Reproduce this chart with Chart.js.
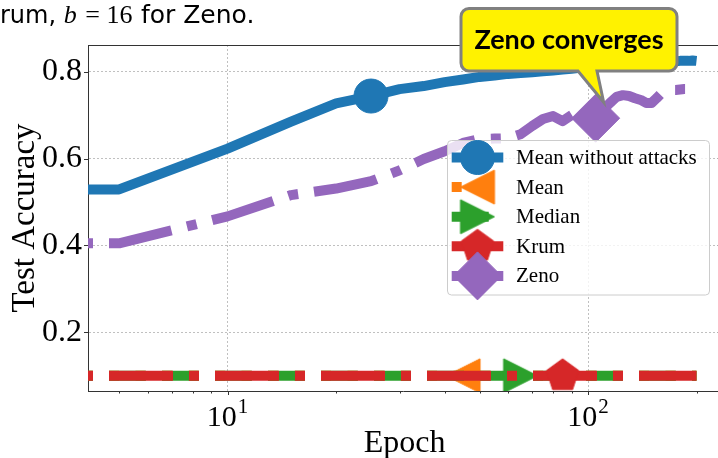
<!DOCTYPE html>
<html>
<head>
<meta charset="utf-8">
<script src="https://cdn.jsdelivr.net/npm/chart.js"></script>
<style>
  html, body { margin: 0; padding: 0; background: #fff; overflow: hidden; }
  canvas { display: block; }
</style>
</head>
<body>
<canvas id="c" width="718" height="458"></canvas>
<script>
// ---- data -------------------------------------------------------------
const epochs = [4.1, 5, 10, 15, 20, 25, 30, 35, 40, 45, 50, 55, 60, 65, 70, 75, 80, 85, 90, 95, 100,
                105, 110, 115, 120, 125, 130, 135, 140, 145, 150, 155, 160, 165, 170, 175, 180, 185, 190, 195, 200];

const cleanAcc = [0.529, 0.529, 0.623, 0.685, 0.727, 0.744, 0.760, 0.767, 0.776, 0.782, 0.788, 0.791, 0.795, 0.797,
                  0.799, 0.801, 0.803, 0.805, 0.807, 0.809, 0.811, 0.812, 0.814, 0.815, 0.816, 0.817, 0.818, 0.819,
                  0.820, 0.821, 0.821, 0.822, 0.823, 0.823, 0.824, 0.824, 0.825, 0.825, 0.825, 0.826, 0.825];

const meanAcc = [0.1, 0.1, 0.1, 0.1, 0.1, 0.1, 0.1, 0.1, 0.1, 0.1, 0.1, 0.1, 0.1, 0.1, 0.1, 0.1, 0.1, 0.1, 0.1, 0.1, 0.1,
                 0.1, 0.1, 0.1, 0.1, 0.1, 0.1, 0.1, 0.1, 0.1, 0.1, 0.1, 0.1, 0.1, 0.1, 0.1, 0.1, 0.1, 0.1, 0.1, 0.1];

const medianAcc = [0.1, 0.1, 0.1, 0.1, 0.1, 0.1, 0.1, 0.1, 0.1, 0.1, 0.1, 0.1, 0.1, 0.1, 0.1, 0.1, 0.1, 0.1, 0.1, 0.1, 0.1,
                   0.1, 0.1, 0.1, 0.1, 0.1, 0.1, 0.1, 0.1, 0.1, 0.1, 0.1, 0.1, 0.1, 0.1, 0.1, 0.1, 0.1, 0.1, 0.1, 0.1];

const krumAcc = [0.1, 0.1, 0.1, 0.1, 0.1, 0.1, 0.1, 0.1, 0.1, 0.1, 0.1, 0.1, 0.1, 0.1, 0.1, 0.1, 0.1, 0.1, 0.1, 0.1, 0.1,
                 0.1, 0.1, 0.1, 0.1, 0.1, 0.1, 0.1, 0.1, 0.1, 0.1, 0.1, 0.1, 0.1, 0.1, 0.1, 0.1, 0.1, 0.1, 0.1, 0.1];

const zenoAcc = [0.405, 0.405, 0.467, 0.516, 0.531, 0.548, 0.573, 0.599, 0.617, 0.636, 0.645, 0.646, 0.647, 0.656,
                 0.675, 0.691, 0.698, 0.686, 0.700, 0.712, 0.702, 0.693, 0.712, 0.728, 0.742, 0.746, 0.744, 0.739,
                 0.735, 0.728, 0.728, 0.739, 0.751, 0.755, 0.758, 0.758, 0.759, 0.760, 0.760, 0.761, 0.762];

const seriesNames = ['Mean without attacks', 'Mean', 'Median', 'Krum', 'Zeno'];
const markerEpochs = [25, 45, 65, 85, 105];

const yTicks = [0.2, 0.4, 0.6, 0.8];
const xMajorTicks = [10, 100];
const xMinorTicks = [5, 6, 7, 8, 9, 20, 30, 40, 50, 60, 70, 80, 90, 200];

const titleParts = ['rum, ', 'b', ' = 16 ', 'for Zeno.'];
const calloutText = 'Zeno converges';
const xTitle = 'Epoch';
const yTitle = 'Test Accuracy';

// ---- styles -----------------------------------------------------------
const COLORS = ['#1f77b4', '#ff7f0e', '#2ca02c', '#d62728', '#9467bd'];
const SERIF = '"Liberation Serif", "Times New Roman", serif';
const SANS = '"DejaVu Sans", "Noto Sans", sans-serif';
const BOLD_SANS = 'Lato, "Noto Sans", sans-serif';
const SPINE = '#333333';

// marker sprites for shapes the library does not provide
function markerCanvas(color, pathFn) {
  const s = 44, c = document.createElement('canvas');
  c.width = s; c.height = s;
  const g = c.getContext('2d');
  g.translate(s / 2, s / 2);
  g.beginPath(); pathFn(g); g.closePath();
  g.fillStyle = color; g.fill();
  g.lineWidth = 1; g.strokeStyle = color; g.stroke();
  return c;
}
const MR = 17;
const triLeft = markerCanvas(COLORS[1], g => { g.moveTo(-MR, 0); g.lineTo(MR, -MR); g.lineTo(MR, MR); });
const triRight = markerCanvas(COLORS[2], g => { g.moveTo(MR, 0); g.lineTo(-MR, -MR); g.lineTo(-MR, MR); });
const pentagon = markerCanvas(COLORS[3], g => {
  for (let k = 0; k < 5; k++) {
    const a = -Math.PI / 2 + k * 2 * Math.PI / 5;
    const px = MR * Math.cos(a), py = MR * Math.sin(a);
    if (k) g.lineTo(px, py); else g.moveTo(px, py);
  }
});

const styles = [
  { point: 'circle',  radius: 17, dash: [],                offset: 0 },
  { point: triLeft,   radius: 17, dash: [10, 16.5],        offset: 85 },
  { point: triRight,  radius: 17, dash: [37, 16],          offset: 85 },
  { point: pentagon,  radius: 17, dash: [64, 16, 10, 16],  offset: 85 },
  { point: 'rectRot', radius: 24, dash: [64, 16, 10, 16],  offset: 85 }
];
const seriesValues = [cleanAcc, meanAcc, medianAcc, krumAcc, zenoAcc];

const datasets = seriesValues.map((vals, i) => ({
  label: seriesNames[i],
  data: epochs.map((e, j) => ({ x: e, y: vals[j] })),
  borderColor: COLORS[i],
  backgroundColor: COLORS[i],
  borderWidth: 10,
  borderDash: styles[i].dash,
  borderDashOffset: styles[i].offset,
  borderCapStyle: 'butt',
  borderJoinStyle: 'round',
  tension: 0,
  fill: false,
  pointStyle: styles[i].point,
  pointRadius: ctx => (ctx.raw && ctx.raw.x === markerEpochs[i]) ? styles[i].radius : 0,
  pointHoverRadius: 0,
  pointBackgroundColor: COLORS[i],
  pointBorderColor: COLORS[i],
  pointBorderWidth: 1,
  order: 5 - i
}));

// ---- decorations: spines, ticks, labels, title, legend, callout --------
function roundRectPath(ctx, l, t, r, b, rad) {
  ctx.moveTo(l + rad, t);
  ctx.lineTo(r - rad, t); ctx.arcTo(r, t, r, t + rad, rad);
  ctx.lineTo(r, b - rad); ctx.arcTo(r, b, r - rad, b, rad);
  ctx.lineTo(l + rad, b); ctx.arcTo(l, b, l, b - rad, rad);
  ctx.lineTo(l, t + rad); ctx.arcTo(l, t, l + rad, t, rad);
  ctx.closePath();
}

function drawLegendMarker(ctx, i, cx, cy) {
  const st = styles[i];
  if (typeof st.point === 'object') {
    ctx.drawImage(st.point, cx - st.point.width / 2, cy - st.point.height / 2);
    return;
  }
  ctx.beginPath();
  if (st.point === 'circle') {
    ctx.arc(cx, cy, st.radius, 0, Math.PI * 2);
  } else {
    ctx.moveTo(cx - st.radius, cy); ctx.lineTo(cx, cy - st.radius);
    ctx.lineTo(cx + st.radius, cy); ctx.lineTo(cx, cy + st.radius);
    ctx.closePath();
  }
  ctx.fillStyle = COLORS[i]; ctx.fill();
  ctx.lineWidth = 1; ctx.strokeStyle = COLORS[i]; ctx.stroke();
}

const decorations = {
  id: 'decorations',
  afterDraw(chart) {
    const ctx = chart.ctx;
    const area = chart.chartArea;
    const xs = chart.scales.x, ys = chart.scales.y;
    ctx.save();

    // top spine
    ctx.strokeStyle = SPINE; ctx.lineWidth = 1;
    ctx.beginPath(); ctx.moveTo(area.left, area.top + 0.5); ctx.lineTo(area.right, area.top + 0.5); ctx.stroke();

    // tick marks
    ctx.beginPath();
    yTicks.forEach(v => { const y = Math.round(ys.getPixelForValue(v)) + 0.5; ctx.moveTo(area.left - 4, y); ctx.lineTo(area.left, y); });
    xMajorTicks.forEach(v => { const x = Math.round(xs.getPixelForValue(v)) + 0.5; ctx.moveTo(x, area.bottom); ctx.lineTo(x, area.bottom + 4); });
    xMinorTicks.forEach(v => { const x = Math.round(xs.getPixelForValue(v)) + 0.5; ctx.moveTo(x, area.bottom); ctx.lineTo(x, area.bottom + 2.5); });
    ctx.stroke();

    // x tick labels: 10 with a raised exponent
    ctx.fillStyle = '#000';
    ctx.textBaseline = 'alphabetic';
    ctx.textAlign = 'left';
    xMajorTicks.forEach(v => {
      const x = xs.getPixelForValue(v);
      const exp = String(Math.round(Math.log10(v)));
      ctx.font = '30px ' + SERIF; const wb = ctx.measureText('10').width;
      ctx.font = '21px ' + SERIF; const we = ctx.measureText(exp).width;
      const x0 = x - (wb + we + 1) / 2;
      ctx.font = '30px ' + SERIF; ctx.fillText('10', x0, 426);
      ctx.font = '21px ' + SERIF; ctx.fillText(exp, x0 + wb + 1, 413);
    });

    // axis titles
    ctx.font = '32px ' + SERIF;
    ctx.textAlign = 'center';
    ctx.fillText(xTitle, 404.5, 452);
    ctx.save();
    ctx.translate(34, (area.top + area.bottom) / 2);
    ctx.rotate(-Math.PI / 2);
    ctx.font = '33px ' + SERIF;
    ctx.fillText(yTitle, 0, 0);
    ctx.restore();

    // figure title (text and maths mixed)
    ctx.textAlign = 'left';
    const titleFonts = ['24px ' + SANS, 'italic 26px ' + SERIF, '26px ' + SERIF, '25px ' + SANS];
    let tx = 0;
    titleParts.forEach((t, k) => {
      ctx.font = titleFonts[k];
      ctx.fillText(t, tx, 23);
      tx += ctx.measureText(t).width + (k === 1 || k === 2 ? 2 : 0);
    });

    // legend
    const lg = { l: 447.5, t: 140.5, r: 709.5, b: 295, row0: 157.5, dy: 29.6, h0: 451.7, h1: 503.3, tx: 516 };
    ctx.beginPath(); roundRectPath(ctx, lg.l, lg.t, lg.r, lg.b, 4);
    ctx.fillStyle = 'rgba(255,255,255,0.8)'; ctx.fill();
    ctx.strokeStyle = '#cccccc'; ctx.lineWidth = 1; ctx.stroke();
    seriesNames.forEach((name, i) => {
      const y = lg.row0 + i * lg.dy;
      ctx.save();
      ctx.strokeStyle = COLORS[i]; ctx.lineWidth = 10; ctx.lineCap = 'butt';
      ctx.setLineDash(styles[i].dash); ctx.lineDashOffset = 0;
      ctx.beginPath(); ctx.moveTo(lg.h0, y); ctx.lineTo(lg.h1, y); ctx.stroke();
      ctx.restore();
      drawLegendMarker(ctx, i, (lg.h0 + lg.h1) / 2, y);
      ctx.fillStyle = '#000';
      ctx.font = '21px ' + SERIF;
      ctx.textBaseline = 'middle';
      ctx.fillText(name, lg.tx, y + 1);
    });

    // callout pointing at the Zeno marker
    const zi = epochs.indexOf(markerEpochs[4]);
    const tipX = xs.getPixelForValue(markerEpochs[4]) + 8;
    const tipY = ys.getPixelForValue(zenoAcc[zi]) - 16;
    const bx = { l: 461, t: 8.5, r: 677, b: 71, rad: 8, p0: 578, p1: 597 };
    ctx.beginPath();
    ctx.moveTo(bx.l + bx.rad, bx.t);
    ctx.lineTo(bx.r - bx.rad, bx.t); ctx.arcTo(bx.r, bx.t, bx.r, bx.t + bx.rad, bx.rad);
    ctx.lineTo(bx.r, bx.b - bx.rad); ctx.arcTo(bx.r, bx.b, bx.r - bx.rad, bx.b, bx.rad);
    ctx.lineTo(bx.p1, bx.b); ctx.lineTo(tipX, tipY); ctx.lineTo(bx.p0, bx.b);
    ctx.lineTo(bx.l + bx.rad, bx.b); ctx.arcTo(bx.l, bx.b, bx.l, bx.b - bx.rad, bx.rad);
    ctx.lineTo(bx.l, bx.t + bx.rad); ctx.arcTo(bx.l, bx.t, bx.l + bx.rad, bx.t, bx.rad);
    ctx.closePath();
    ctx.fillStyle = '#fff200'; ctx.fill();
    ctx.lineJoin = 'miter'; ctx.lineWidth = 3; ctx.strokeStyle = '#808080'; ctx.stroke();
    ctx.fillStyle = '#000';
    ctx.font = 'bold 27px ' + BOLD_SANS;
    ctx.textAlign = 'center';
    ctx.textBaseline = 'alphabetic';
    ctx.fillText(calloutText, (bx.l + bx.r) / 2, 49);

    ctx.restore();
  }
};

// ---- chart ------------------------------------------------------------
const gridStyle = { color: '#b0b0b0', lineWidth: 0.8, drawTicks: false };
const borderStyle = { display: true, color: SPINE, width: 1, dash: [2, 2] };

new Chart(document.getElementById('c'), {
  type: 'line',
  data: { datasets },
  options: {
    responsive: false,
    animation: false,
    devicePixelRatio: 1,
    events: [],
    layout: { padding: { top: 45, right: 0, bottom: 0, left: 0 } },
    plugins: { legend: { display: false }, tooltip: { enabled: false } },
    scales: {
      x: {
        type: 'logarithmic',
        min: 4.1, max: 229.4,
        afterFit: s => { s.height = 67; },
        afterBuildTicks: s => { s.ticks = xMajorTicks.map(v => ({ value: v, major: true })); },
        ticks: { display: false },
        grid: gridStyle,
        border: borderStyle
      },
      y: {
        type: 'linear',
        min: 0.065, max: 0.8615,
        afterFit: s => { s.width = 88; },
        afterBuildTicks: s => { s.ticks = yTicks.map(v => ({ value: v })); },
        ticks: {
          color: '#000', padding: 6, autoSkip: false,
          font: { family: SERIF, size: 32 },
          callback: v => Number(v).toFixed(1)
        },
        grid: gridStyle,
        border: borderStyle
      }
    }
  },
  plugins: [decorations]
});
</script>
</body>
</html>
